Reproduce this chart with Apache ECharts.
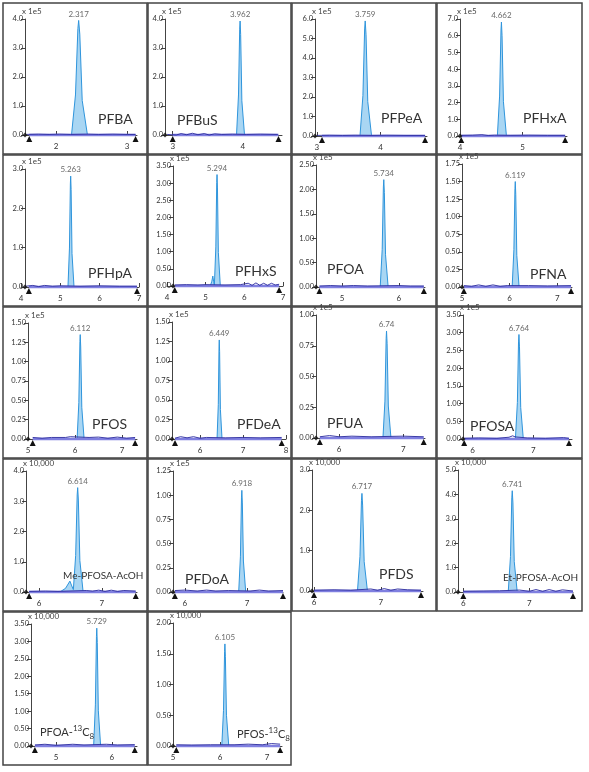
<!DOCTYPE html>
<html><head><meta charset="utf-8">
<script src="https://cdn.jsdelivr.net/npm/echarts@6/dist/echarts.min.js"></script>
<style>html,body{margin:0;padding:0;background:#fff;}#c{width:589px;height:772px;}</style>
</head><body><div id="c"></div>
<script>
// ---------------- DATA ----------------
const compounds = ['PFBA','PFBuS','PFPeA','PFHxA','PFHpA','PFHxS','PFOA','PFNA','PFOS','PFDeA','PFUA','PFOSA',
  'Me-PFOSA-AcOH','PFDoA','PFDS','Et-PFOSA-AcOH','PFOA-13C8','PFOS-13C8'];
const retentionTimes = [2.317,3.962,3.759,4.662,5.263,5.294,5.734,6.119,6.112,6.449,6.74,6.764,6.614,6.918,6.717,6.741,5.729,6.105];
const multipliers = ['x 1e5','x 1e5','x 1e5','x 1e5','x 1e5','x 1e5','x 1e5','x 1e5','x 1e5','x 1e5','x 1e5','x 1e5',
  'x 10,000','x 1e5','x 10,000','x 10,000','x 10,000','x 10,000'];
const yMax = [4.0,4.0,6.0,7.0,3.0,3.5,2.5,1.75,1.5,1.5,1.0,3.5,4.0,1.25,3.0,5.0,3.5,2.0];
const yStep = [1,1,1,1,1,0.5,0.5,0.25,0.25,0.25,0.25,0.5,1,0.25,1,1,0.5,0.5];
const yDecimals = [1,1,1,1,1,2,2,2,2,2,2,2,1,2,1,1,2,2];
const xMin = [1.56,2.89,2.97,4.0,4.0,4.0,4.54,5.0,5.0,5.35,5.64,5.84,5.79,5.81,5.97,5.92,4.55,5.0];
const xMax = [3.14,4.56,4.73,5.71,7.0,7.0,6.46,7.31,7.32,8.0,7.34,7.64,7.56,7.58,7.63,7.66,6.45,7.32];
const xTicks = [[2,3],[3,4],[3,4],[4,5],[4,5,6,7],[4,5,6,7],[5,6],[5,6,7],[5,6,7],[6,7,8],[6,7],[6,7],[6,7],[6,7],[6,7],[6,7],[5,6],[5,6,7]];
const integrationStart = [1.62,3.0,3.08,4.02,4.2,4.2,4.6,5.04,5.1,5.42,5.7,5.86,5.84,5.84,6.0,6.0,4.62,5.07];
const integrationEnd = [3.12,4.51,4.70,5.68,6.95,6.9,6.44,7.29,7.28,7.9,7.32,7.59,7.54,7.58,7.6,7.66,6.41,7.28];
const axisOriginX = [1.56,2.89,2.97,4.0,4.10,4.155,4.54,5.0,5.0,5.35,5.64,5.84,5.79,5.81,5.97,5.92,4.55,5.0];

const peakTraces = [
  [[2.216,0],[2.272,1.38],[2.306,3.67],[2.317,3.95],[2.333,3.48],[2.367,1.19],[2.441,0]],
  [[3.911,0],[3.939,1.38],[3.956,3.65],[3.962,3.93],[3.970,3.46],[3.987,1.18],[4.025,0]],
  [[3.677,0],[3.723,2.07],[3.750,5.49],[3.759,5.90],[3.772,5.19],[3.799,1.77],[3.859,0]],
  [[4.597,0],[4.633,2.39],[4.655,6.34],[4.662,6.82],[4.672,6.00],[4.694,2.05],[4.742,0]],
  [[5.194,0],[5.232,0.99],[5.255,2.62],[5.263,2.82],[5.274,2.48],[5.297,0.85],[5.348,0]],
  [[5.12,0],[5.16,0.14],[5.185,0.29],[5.205,0.14],[5.225,0.02],[5.263,1.14],[5.286,3.02],[5.294,3.25],[5.305,2.86],[5.328,0.98],[5.379,0]],
  [[5.671,0],[5.706,0.77],[5.727,2.05],[5.734,2.20],[5.744,1.94],[5.765,0.66],[5.811,0]],
  [[6.053,0],[6.090,0.53],[6.112,1.40],[6.119,1.50],[6.129,1.32],[6.151,0.45],[6.199,0]],
  [[6.045,0],[6.082,0.47],[6.105,1.26],[6.112,1.35],[6.122,1.19],[6.145,0.41],[6.194,0]],
  [[6.397,0],[6.426,0.44],[6.443,1.18],[6.449,1.27],[6.457,1.12],[6.475,0.38],[6.513,0]],
  [[6.684,0],[6.715,0.30],[6.734,0.81],[6.740,0.87],[6.749,0.77],[6.768,0.26],[6.809,0]],
  [[6.705,0],[6.738,1.03],[6.757,2.74],[6.764,2.95],[6.773,2.60],[6.793,0.89],[6.836,0]],
  [[6.33,0],[6.42,0.12],[6.49,0.36],[6.52,0.20],[6.545,0.08],[6.582,1.21],[6.606,3.21],[6.614,3.45],[6.625,3.04],[6.649,1.04],[6.701,0]],
  [[6.867,0],[6.895,0.37],[6.912,0.98],[6.918,1.05],[6.926,0.92],[6.943,0.32],[6.980,0]],
  [[6.650,0],[6.687,0.85],[6.710,2.25],[6.717,2.42],[6.727,2.13],[6.750,0.73],[6.799,0]],
  [[6.680,0],[6.714,1.45],[6.734,3.86],[6.741,4.15],[6.751,3.65],[6.771,1.25],[6.816,0]],
  [[5.673,0],[5.704,1.18],[5.723,3.14],[5.729,3.38],[5.738,2.97],[5.757,1.01],[5.798,0]],
  [[6.038,0],[6.075,0.58],[6.098,1.54],[6.105,1.66],[6.115,1.46],[6.138,0.50],[6.187,0]]
];

const baselineTraces = [
  [[1.58,0.02],[1.75,0.03],[1.9,0.02],[2.05,0.03],[2.2,0.02],[2.45,0.03],[2.6,0.02],[2.8,0.03],[3.0,0.02],[3.12,0.02]],
  [[2.92,0.02],[3.05,0.0],[3.12,0.05],[3.2,0.01],[3.28,0.06],[3.36,0.01],[3.45,0.05],[3.52,0.0],[3.6,0.04],[3.7,0.02],[3.85,0.03],[4.05,0.02],[4.25,0.03],[4.5,0.02]],
  [[3.0,0.03],[3.2,0.04],[3.4,0.03],[3.6,0.04],[3.85,0.03],[4.1,0.04],[4.4,0.03],[4.7,0.03]],
  [[4.02,0.04],[4.2,0.05],[4.35,0.08],[4.45,0.03],[4.55,0.05],[4.8,0.04],[5.1,0.05],[5.4,0.04],[5.68,0.04]],
  [[4.12,0.02],[4.3,0.04],[4.45,0.01],[4.6,0.04],[4.8,0.02],[5.0,0.03],[5.5,0.02],[6.0,0.03],[6.5,0.02],[6.95,0.02]],
  [[4.2,0.03],[4.5,0.04],[4.8,0.03],[5.0,0.04],[5.5,0.03],[5.9,0.04],[6.1,0.08],[6.2,0.02],[6.3,0.09],[6.4,0.02],[6.5,0.08],[6.6,0.02],[6.7,0.08],[6.8,0.03],[6.9,0.05]],
  [[4.6,0.02],[4.8,0.03],[5.0,0.02],[5.2,0.03],[5.45,0.02],[6.0,0.03],[6.2,0.02],[6.44,0.02]],
  [[5.04,0.02],[5.2,0.01],[5.35,0.03],[5.5,0.01],[5.65,0.03],[5.8,0.01],[5.95,0.02],[6.4,0.02],[6.8,0.015],[7.29,0.02]],
  [[5.1,0.02],[5.3,0.01],[5.5,0.02],[5.8,0.02],[5.9,0.03],[6.3,0.02],[6.5,0.025],[6.7,0.01],[6.9,0.025],[7.1,0.01],[7.28,0.02]],
  [[5.42,0.01],[5.55,0.03],[5.7,0.015],[5.85,0.03],[6.0,0.01],[6.15,0.02],[6.6,0.015],[7.0,0.02],[7.4,0.015],[7.9,0.02]],
  [[5.7,0.01],[5.85,0.02],[6.0,0.01],[6.2,0.015],[6.5,0.01],[7.0,0.015],[7.32,0.01]],
  [[5.86,0.02],[6.1,0.03],[6.4,0.02],[6.6,0.05],[6.66,0.09],[6.7,0.06],[6.9,0.03],[7.2,0.02],[7.5,0.04],[7.59,0.02]],
  [[5.84,0.02],[6.1,0.03],[6.3,0.02],[6.75,0.05],[6.85,0.03],[6.95,0.06],[7.05,0.02],[7.15,0.06],[7.25,0.02],[7.35,0.05],[7.54,0.03]],
  [[5.84,0.015],[6.0,0.02],[6.2,0.01],[6.35,0.02],[6.5,0.01],[6.7,0.015],[7.05,0.01],[7.2,0.02],[7.35,0.01],[7.58,0.015]],
  [[6.0,0.02],[6.3,0.03],[6.55,0.02],[6.85,0.05],[6.95,0.02],[7.05,0.06],[7.15,0.02],[7.25,0.05],[7.4,0.03],[7.6,0.02]],
  [[6.0,0.03],[6.3,0.04],[6.55,0.05],[6.85,0.08],[7.0,0.03],[7.1,0.1],[7.2,0.03],[7.3,0.1],[7.4,0.03],[7.5,0.09],[7.66,0.04]],
  [[4.62,0.03],[4.8,0.05],[5.0,0.02],[5.3,0.05],[5.5,0.03],[5.9,0.05],[6.1,0.03],[6.41,0.04]],
  [[5.07,0.02],[5.4,0.015],[5.8,0.02],[6.3,0.02],[6.6,0.03],[6.9,0.02],[7.1,0.04],[7.28,0.03]]
];

// ---------------- LAYOUT (positions / styles) ----------------
const gridRects = [ // [left, top, width, height]
  [25,19,112,116],[165,19,117,116],[315,19,112,117],[460,19,107,117],
  [21,169,118,118],[167,166,116,120],[316,165,109,122],[462,164,110,123],
  [28,323,109,116],[172,322,114,117],[316,315,109,123],[463,315,109,124],
  [26,471,111,121],[173,471,110,121],[312,470,111,121],[458,470,115,122],
  [31,624,106,122],[173,623,109,123]
];
const yAxisOffsets = [0,0,0,0,-4,-6,0,0,0,0,0,0,0,0,0,0,0,0];
const nameLabelPos = [ // [left x, center y, font size]
  [98,119,14],[177,120,14],[381,118,14],[523,118,14],
  [88,273,14],[235,271,14],[327,269,14],[530,274,14],
  [92,424,14],[237,424,14],[327,423,14],[470,426,14],
  [63,576,10],[185,579,14],[379,574,14],[503,578,10],
  [40,732,11],[237,734,11]
];
const panelCols = [[3,144],[148,143],[292,144],[437,145]];
const panelRows = [[3,151],[155,151],[307,151],[459,152],[612,153]];

const FONT = 'Lato, "Open Sans", sans-serif';
const grids = [], xAxes = [], yAxes = [], series = [], graphics = [];

for (let i = 0; i < compounds.length; i++) {
  const g = gridRects[i];
  grids.push({left: g[0], top: g[1], width: g[2], height: g[3], containLabel: false});
  xAxes.push({
    type: 'value', gridIndex: i, min: xMin[i], max: xMax[i],
    axisLine: {onZero: false, lineStyle: {color: '#444', width: 1}},
    axisTick: {show: true, inside: true, length: 4, customValues: xTicks[i], lineStyle: {color: '#444'}},
    axisLabel: {customValues: xTicks[i], fontSize: 8, color: '#333', margin: 7, fontFamily: FONT},
    splitLine: {show: false}
  });
  const dec = yDecimals[i];
  yAxes.push({
    type: 'value', gridIndex: i, min: 0, max: yMax[i], interval: yStep[i], offset: yAxisOffsets[i],
    name: multipliers[i], nameLocation: 'end', nameGap: 3,
    nameTextStyle: {fontSize: 8, color: '#444', align: 'left', verticalAlign: 'bottom', padding: [0,0,0,-3], fontFamily: FONT},
    axisLine: {show: true, lineStyle: {color: '#444', width: 1}},
    axisTick: {show: true, length: 4, lineStyle: {color: '#444'}},
    axisLabel: {fontSize: 7.5, color: '#333', margin: 2, fontFamily: FONT, formatter: v => v.toFixed(dec)},
    splitLine: {show: false}
  });
  series.push({
    type: 'line', xAxisIndex: i, yAxisIndex: i, data: peakTraces[i], symbol: 'none', clip: false,
    lineStyle: {color: '#2f95dc', width: 1}, areaStyle: {color: '#a9d6f3', opacity: 1}, z: 2
  });
  series.push({
    type: 'line', xAxisIndex: i, yAxisIndex: i, data: [[integrationStart[i],0],[integrationEnd[i],0]],
    symbol: 'triangle', symbolSize: 6, symbolOffset: [0, 4], showSymbol: true, clip: false,
    itemStyle: {color: '#111'}, lineStyle: {color: '#7f7fe0', width: 2.5}, z: 3
  });
  series.push({
    type: 'line', xAxisIndex: i, yAxisIndex: i, data: baselineTraces[i], symbol: 'none', clip: false,
    lineStyle: {color: '#2a2a9e', width: 0.9}, z: 4
  });
  const apex = peakTraces[i].reduce((a, b) => (b[1] > a[1] ? b : a));
  series.push({
    type: 'scatter', xAxisIndex: i, yAxisIndex: i, data: [[retentionTimes[i], apex[1]]], symbolSize: 1, clip: false,
    itemStyle: {color: 'rgba(0,0,0,0)'},
    label: {show: true, position: 'top', distance: 2, fontSize: 8, color: '#444', fontFamily: FONT,
      formatter: () => String(retentionTimes[i])}, z: 5
  });
  series.push({
    type: 'scatter', xAxisIndex: i, yAxisIndex: i, data: [[axisOriginX[i], 0]], symbol: 'diamond', symbolSize: 5,
    clip: false, itemStyle: {color: '#111'}, z: 5
  });

  const col = panelCols[i % 4], row = panelRows[Math.floor(i / 4)];
  graphics.push({type: 'rect', silent: true, z: -10,
    shape: {x: col[0], y: row[0], width: col[1], height: row[1]},
    style: {fill: 'none', stroke: '#444', lineWidth: 1.5}});

  const p = nameLabelPos[i];
  let text = compounds[i], rich = undefined;
  if (/-13C8$/.test(compounds[i])) {
    const base = compounds[i].replace('-13C8', '-');
    text = '{a|' + base + '}{s|13}{a|C}{b|8}';
    rich = {
      a: {fontSize: p[2], fontFamily: FONT, fill: '#333', lineHeight: 16, verticalAlign: 'middle'},
      s: {fontSize: 8, fontFamily: FONT, fill: '#333', lineHeight: 16, verticalAlign: 'top'},
      b: {fontSize: 8, fontFamily: FONT, fill: '#333', lineHeight: 16, verticalAlign: 'bottom'}
    };
  }
  graphics.push({type: 'text', silent: true, x: p[0], y: p[1], z: 10,
    style: {text: text, rich: rich, fontSize: p[2], fontFamily: FONT, fill: '#333', verticalAlign: 'middle', align: 'left'}});
}

const chart = echarts.init(document.getElementById('c'), null, {renderer: 'canvas'});
chart.setOption({
  animation: false, backgroundColor: '#fff',
  grid: grids, xAxis: xAxes, yAxis: yAxes, series: series, graphic: graphics
});
</script></body></html>
